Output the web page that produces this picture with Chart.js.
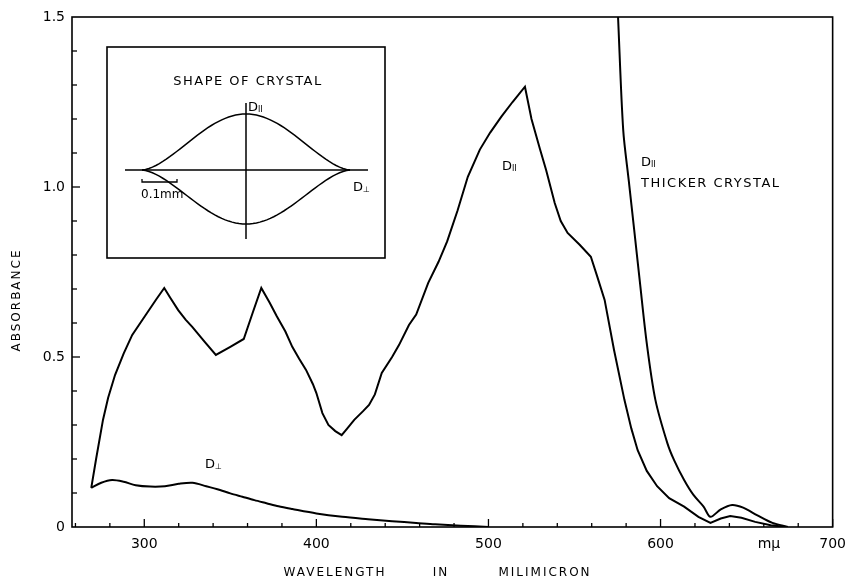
<!DOCTYPE html>
<html>
<head>
<meta charset="utf-8">
<script src="https://cdn.jsdelivr.net/npm/chart.js@4.4.1/dist/chart.umd.min.js"></script>
<style>
  html, body { margin: 0; padding: 0; background: #fff; }
  #wrap { width: 855px; height: 580px; }
</style>
</head>
<body>
<div id="wrap"><canvas id="grafico"></canvas></div>
<script>
// Valores (nm, absorbância)
const dParNm = [269.2, 272, 276, 279, 283, 288, 293, 301.7, 307, 311.6, 315, 319.7, 324, 328, 335, 341.6, 350, 357.8, 363, 368,
  372.8, 377, 382, 386, 390, 394, 398, 400, 403.5, 407, 411, 414.7, 418, 422, 427, 430.6, 434, 438, 444, 448, 453.8, 458,
  465, 471, 476, 482, 488, 495, 501, 507.5, 514, 521.2, 525, 530, 533.5, 538.5, 542, 546, 553, 559.5, 563, 567.5, 573,
  579, 583, 586.7, 592, 598, 605, 613.7, 622, 629, 635, 640.5, 647, 655, 664, 673];
const dParAbs = [0.115, 0.2, 0.315, 0.38, 0.447, 0.51, 0.565, 0.63, 0.67, 0.703, 0.675, 0.638, 0.61, 0.588, 0.545, 0.506, 0.53, 0.553, 0.63, 0.703,
  0.66, 0.62, 0.575, 0.53, 0.495, 0.462, 0.42, 0.394, 0.335, 0.3, 0.282, 0.27, 0.29, 0.315, 0.34, 0.359, 0.39, 0.453, 0.5, 0.535, 0.594, 0.625,
  0.718, 0.78, 0.84, 0.93, 1.03, 1.11, 1.16, 1.207, 1.25, 1.295, 1.2, 1.11, 1.05, 0.953, 0.9, 0.865, 0.83, 0.795, 0.74, 0.668, 0.52,
  0.374, 0.29, 0.226, 0.165, 0.12, 0.085, 0.06, 0.03, 0.012, 0.025, 0.032, 0.027, 0.015, 0.005, 0];

const grossoNm = [575.3, 578.3, 581.5, 584.7, 588, 592, 597, 604, 608, 613.7, 619, 625, 629, 635, 641.6, 648, 656, 665, 674];
const grossoAbs = [1.5, 1.168, 1.02, 0.873, 0.72, 0.54, 0.374, 0.246, 0.195, 0.138, 0.095, 0.06, 0.03, 0.052, 0.065, 0.057, 0.035, 0.012, 0];

const dPerpNm = [269.2, 275, 281.3, 288, 295, 303.5, 312, 320, 328, 336, 344, 350, 357, 364, 371, 378, 386, 400, 415, 430, 444, 458, 469, 484, 500];
const dPerpAbs = [0.115, 0.13, 0.138, 0.133, 0.123, 0.119, 0.12, 0.127, 0.13, 0.12, 0.109, 0.099, 0.089, 0.079, 0.07, 0.061, 0.053, 0.04, 0.03, 0.023, 0.017, 0.012, 0.008, 0.004, 0];

const xTicks = [300, 400, 500, 600, 663, 700];
const yTicks = [0, 0.5, 1.0, 1.5];

function pontos(xs, ys) {
  return xs.map((v, i) => ({ x: v, y: ys[i] }));
}

const fonte = '"DejaVu Sans", sans-serif';

// Moldura, marcas internas, títulos e o detalhe do cristal
const extras = {
  id: 'extras',
  afterDraw(chart) {
    const { ctx, chartArea: a, scales: { x, y } } = chart;
    ctx.save();
    ctx.strokeStyle = '#000';
    ctx.fillStyle = '#000';
    ctx.lineWidth = 1.6;
    ctx.strokeRect(a.left, a.top, a.right - a.left, a.bottom - a.top);

    ctx.lineWidth = 1.3;
    for (let v = 260; v <= 700; v += 20) {
      const px = x.getPixelForValue(v);
      const len = v % 100 === 0 ? 8 : 4;
      ctx.beginPath();
      ctx.moveTo(px, a.bottom);
      ctx.lineTo(px, a.bottom - len);
      ctx.stroke();
    }
    for (let i = 1; i < 15; i++) {
      const py = y.getPixelForValue(i / 10);
      const len = i % 5 === 0 ? 8 : 5;
      ctx.beginPath();
      ctx.moveTo(a.left, py);
      ctx.lineTo(a.left + len, py);
      ctx.stroke();
    }

    // títulos dos eixos
    ctx.font = '12px ' + fonte;
    ctx.letterSpacing = '2px';
    ctx.textAlign = 'center';
    ctx.textBaseline = 'middle';
    ctx.fillText('WAVELENGTH', 335, 573);
    ctx.fillText('IN', 441, 573);
    ctx.fillText('MILIMICRON', 545, 573);
    ctx.save();
    ctx.translate(17, 300);
    ctx.rotate(-Math.PI / 2);
    ctx.fillText('ABSORBANCE', 0, 0);
    ctx.restore();

    // rótulos das curvas
    function rotulo(simb, tx, ty) {
      ctx.letterSpacing = '0px';
      ctx.textAlign = 'left';
      ctx.font = '13px ' + fonte;
      ctx.fillText('D', tx, ty);
      const w = ctx.measureText('D').width;
      ctx.font = '8px ' + fonte;
      ctx.fillText(simb, tx + w, ty + 2);
    }
    rotulo('II', 502, 167);
    rotulo('II', 641, 163);
    rotulo('⊥', 205, 465);
    ctx.font = '13px ' + fonte;
    ctx.letterSpacing = '1.5px';
    ctx.textAlign = 'left';
    ctx.fillText('THICKER CRYSTAL', 641, 184);

    // detalhe: forma do cristal
    ctx.lineWidth = 1.6;
    ctx.strokeRect(107, 47, 278, 211);
    ctx.textAlign = 'center';
    ctx.font = '13px ' + fonte;
    ctx.letterSpacing = '1.5px';
    ctx.fillText('SHAPE OF CRYSTAL', 248, 82);
    ctx.lineWidth = 1.5;
    ctx.beginPath();
    ctx.moveTo(125, 170); ctx.lineTo(368, 170);
    ctx.moveTo(246, 103); ctx.lineTo(246, 239);
    ctx.stroke();
    const cx = 246, meia = 104, cy = 170;
    [[-1, 56], [1, 54]].forEach(([s, h]) => {
      ctx.beginPath();
      for (let k = 0; k <= 60; k++) {
        const t = -1 + k / 30;
        const f = Math.pow((1 + Math.cos(Math.PI * t)) / 2, 0.8);
        const px = cx + t * meia, py = cy + s * h * f;
        if (k === 0) ctx.moveTo(px, py); else ctx.lineTo(px, py);
      }
      ctx.stroke();
    });
    rotulo('II', 248, 108);
    rotulo('⊥', 353, 188);
    ctx.lineWidth = 1.3;
    ctx.beginPath();
    ctx.moveTo(142, 179); ctx.lineTo(142, 182); ctx.lineTo(177, 182); ctx.lineTo(177, 179);
    ctx.stroke();
    ctx.letterSpacing = '0px';
    ctx.font = '12px ' + fonte;
    ctx.textAlign = 'left';
    ctx.fillText('0.1mm', 141, 195);
    ctx.restore();
  }
};

const estiloLinha = { borderColor: '#000', borderWidth: 2, pointRadius: 0, fill: false, showLine: true };

new Chart(document.getElementById('grafico'), {
  type: 'scatter',
  data: {
    datasets: [
      { label: 'D par', data: pontos(dParNm, dParAbs), tension: 0, ...estiloLinha },
      { label: 'D par thicker', data: pontos(grossoNm, grossoAbs), tension: 0.3, ...estiloLinha },
      { label: 'D perp', data: pontos(dPerpNm, dPerpAbs), tension: 0.3, ...estiloLinha }
    ]
  },
  options: {
    responsive: true,
    maintainAspectRatio: false,
    animation: false,
    layout: { padding: { left: 0, right: 17, top: 17, bottom: 0 } },
    plugins: { legend: { display: false }, tooltip: { enabled: false } },
    scales: {
      x: {
        type: 'linear', min: 258, max: 700,
        grid: { display: false, drawTicks: false },
        border: { display: false },
        afterBuildTicks: s => { s.ticks = xTicks.map(v => ({ value: v })); },
        afterFit: s => { s.height = 53; },
        ticks: {
          color: '#000', padding: 9, maxRotation: 0, autoSkip: false,
          font: { size: 14, family: fonte },
          callback: v => v === 663 ? 'mμ' : String(v)
        }
      },
      y: {
        min: 0, max: 1.5,
        grid: { display: false, drawTicks: false },
        border: { display: false },
        afterBuildTicks: s => { s.ticks = yTicks.map(v => ({ value: v })); },
        afterFit: s => { s.width = 72; },
        ticks: {
          color: '#000', padding: 7,
          font: { size: 14, family: fonte },
          callback: v => v === 0 ? '0' : v.toFixed(1)
        }
      }
    }
  },
  plugins: [extras]
});
</script>
</body>
</html>
